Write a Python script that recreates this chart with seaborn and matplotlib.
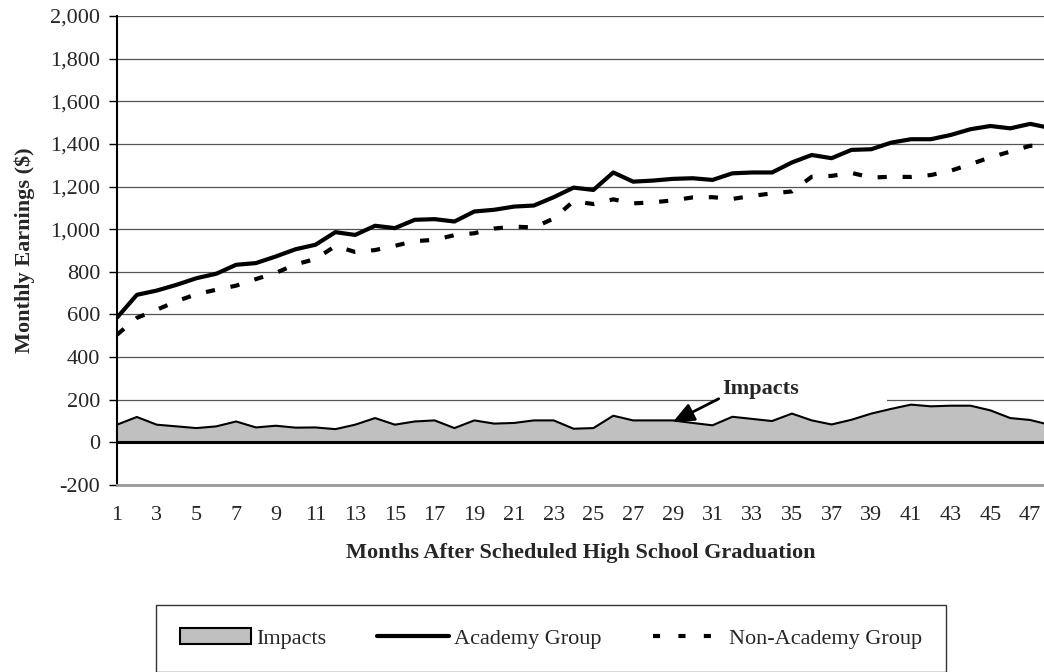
import pandas as pd
import matplotlib
matplotlib.use('Agg')
import matplotlib.pyplot as plt
from matplotlib.patches import Patch, Rectangle
import seaborn as sns

# Monthly earnings
months = list(range(1, 49))
academy = [585, 692, 712, 739, 770, 791, 833, 841, 872, 906,
           927, 986, 973, 1016, 1005, 1044, 1047, 1036, 1083, 1091,
           1106, 1111, 1150, 1195, 1184, 1266, 1223, 1228, 1236, 1239,
           1231, 1262, 1266, 1266, 1313, 1348, 1333, 1372, 1375, 1406,
           1422, 1422, 1442, 1469, 1484, 1473, 1494, 1475]
non_academy = [505, 584, 622, 662, 695, 716, 735, 766, 795, 835,
               860, 921, 893, 902, 922, 944, 950, 972, 981, 1003,
               1012, 1008, 1050, 1131, 1118, 1140, 1121, 1126, 1135, 1149,
               1150, 1142, 1156, 1168, 1177, 1246, 1250, 1264, 1242, 1246,
               1245, 1254, 1274, 1305, 1337, 1364, 1391, 1392]
impacts = [83, 119, 83, 75, 67, 75, 98, 70, 78, 69,
           70, 62, 83, 114, 83, 98, 103, 67, 103, 88,
           91, 103, 103, 64, 67, 125, 103, 103, 103, 91,
           80, 120, 110, 100, 135, 103, 84, 106, 135, 157,
           177, 169, 172, 172, 150, 114, 105, 82]
y_ticks = list(range(-200, 2001, 200))
x_ticks = list(range(1, 48, 2))

df = pd.DataFrame({'month': months, 'academy': academy,
                   'non_academy': non_academy, 'impacts': impacts})

FS = 16

sns.set_style('white')
plt.rcParams['font.family'] = ['Liberation Serif', 'DejaVu Serif']

fig = plt.figure(figsize=(10.44, 6.72), dpi=100)
ax = fig.add_axes([117 / 1044, 1 - 485 / 672, 1 - 117 / 1044, 469 / 672])

# Impacts area
ax.fill_between(df['month'], 0, df['impacts'], facecolor='#c0c0c0',
                edgecolor='none', zorder=2)
sns.lineplot(data=df, x='month', y='impacts', color='black', lw=1.5,
             ax=ax, zorder=2.2)
ax.axhline(0, color='black', lw=2.2, zorder=2.4)

# earnings lines
sns.lineplot(data=df, x='month', y='academy', color='black', lw=3,
             ax=ax, zorder=3)
sns.lineplot(data=df, x='month', y='non_academy', color='black', lw=3,
             dashes=False, ax=ax, zorder=3)
ax.lines[-1].set_dashes((2.2, 3.8))

# chart is cropped a bit after month 47
ax.set_xlim(1, 47.7)
ax.set_ylim(-200, 2000)
ax.set_yticks(y_ticks)
ax.set_yticklabels(['{:,}'.format(v) for v in y_ticks])
ax.set_xticks(x_ticks)
ax.set_xticklabels([str(v) for v in x_ticks])

ax.grid(axis='y', color='#555555', lw=0.9, zorder=0)
ax.grid(axis='x', visible=False)
for s in ['top', 'right']:
    ax.spines[s].set_visible(False)
ax.spines['left'].set_color('black')
ax.spines['left'].set_linewidth(1.5)
ax.spines['bottom'].set_color('#999999')
ax.spines['bottom'].set_linewidth(2)

ax.tick_params(axis='y', which='major', left=True, length=6, width=1,
               color='black', pad=6, labelsize=FS)
ax.tick_params(axis='x', length=0, pad=15, labelsize=FS)

ax.set_ylabel('Monthly Earnings ($)', fontsize=FS, fontweight='bold',
              labelpad=11)
ax.set_xlabel('Months After Scheduled High School Graduation', fontsize=FS,
              fontweight='bold', labelpad=13)

# white box behind the label, hides the 200 gridline there
ax.add_patch(Rectangle((31.28, 180), 8.5, 40, facecolor='white',
                       edgecolor='none', zorder=1))
ax.annotate('Impacts', xy=(29.0, 95), xytext=(31.48, 250),
            ha='left', va='center', fontsize=FS, fontweight='bold',
            arrowprops=dict(arrowstyle='-|>,head_length=0.8,head_width=0.35',
                            color='black', lw=2, shrinkA=0, shrinkB=0,
                            relpos=(0, 0.1)),
            zorder=4)

handles = [Patch(facecolor='#c0c0c0', edgecolor='black', lw=1.5),
           plt.Line2D([], [], color='black', lw=3),
           plt.Line2D([], [], color='black', lw=3, dashes=(1.7, 4.4))]
labels = ['Impacts', 'Academy Group', 'Non-Academy Group']
leg = fig.legend(handles, labels, loc='upper center', ncol=3,
                 bbox_to_anchor=(551 / 1044, 1 - 605 / 672),
                 fontsize=FS, frameon=True, fancybox=False, edgecolor='black',
                 borderpad=1.05, handlelength=3.2, handletextpad=0.25,
                 columnspacing=2.3, borderaxespad=0)
leg.get_frame().set_linewidth(1)

fig.savefig('out.png', dpi=100)
